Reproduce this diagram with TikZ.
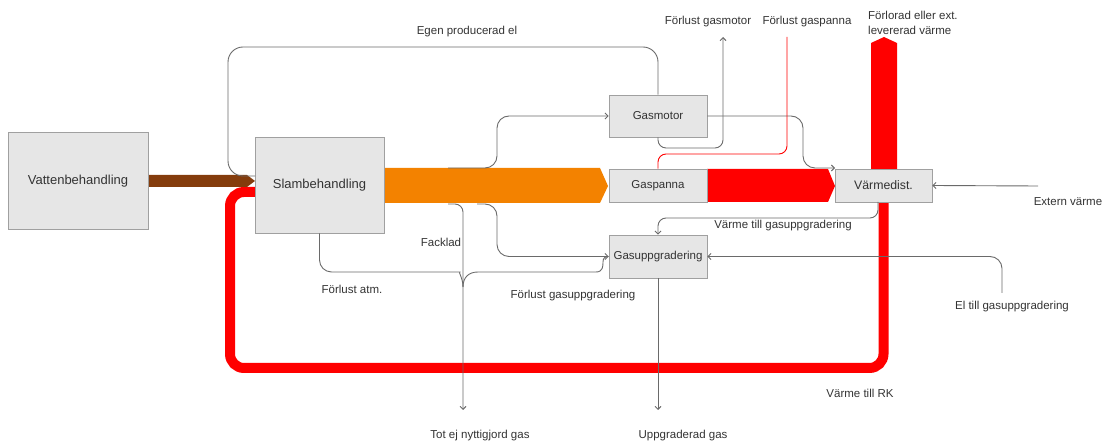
\documentclass[tikz,border=0pt]{standalone}
\usepackage{fontspec}
\setmainfont{Liberation Sans}
\usetikzlibrary{arrows.meta,calc}
\definecolor{boxfill}{HTML}{E6E6E6}
\definecolor{boxline}{HTML}{A0A0A0}
\definecolor{connc}{HTML}{6A6A6A}
\definecolor{orng}{HTML}{F38200}
\definecolor{brwn}{HTML}{843C0C}
\definecolor{rd}{HTML}{FF0000}
\definecolor{txt}{HTML}{333333}
\begin{document}
\begin{tikzpicture}[x=1pt,y=-1pt,
  box/.style={draw=boxline,fill=boxfill,line width=0.8pt,inner sep=0pt,text=txt,font=\fontsize{11.5}{13}\selectfont},
  bigbox/.style={box,font=\fontsize{13}{15}\selectfont},
  lbl/.style={text=txt,font=\fontsize{11.5}{15}\selectfont,inner sep=0pt},
  conn/.style={draw=connc,line width=0.9pt,rounded corners=8pt},
  arr/.style={-{Straight Barb[length=3pt,width=6pt]}},
  heat/.style={draw=rd,line width=10pt,rounded corners=14pt},
]
\useasboundingbox (0,0) rectangle (1106,443);

% named free ends
\coordinate (redin) at (255,192);
\coordinate (elin) at (255,176);
\coordinate (fk) at (448,204);
\coordinate (toup) at (477,204);
\coordinate (togm) at (448,168);
\coordinate (gmloss) at (723,37);
\coordinate (gploss) at (787,37);
\coordinate (vdtl) at (835,168);
\coordinate (ext) at (1038,186);
\coordinate (elgu) at (1002,293);
\coordinate (totgas) at (463,410);
\coordinate (upgas) at (658,410);
\coordinate (jn) at (463,287);

% thick heat flows (behind boxes)
\draw[heat] (883.5,202) -- (883.5,368) -- (230,368) -- (230,192) -- (redin);
\fill[rd] (871,170) -- (871,43) -- (884,37) -- (897,43) -- (897,170) -- cycle;
\fill[brwn] (148,175) -- (247,175) -- (255,181) -- (247,187) -- (148,187) -- cycle;
\fill[orng] (384,168) -- (600,168) -- (608,186) -- (600,203) -- (384,203) -- cycle;
\fill[rd] (707,169) -- (828,169) -- (835,186) -- (828,202) -- (707,202) -- cycle;

% boxes
\node[bigbox,minimum width=140pt,minimum height=97pt] (vb) at (78,181) {Vattenbehandling};
\node[bigbox,minimum width=129pt,minimum height=96pt] (sb) at (319.5,185) {Slambehandling};
\node[box,minimum width=98pt,minimum height=42pt] (gm) at (658,116) {Gasmotor};
\node[box,minimum width=98pt,minimum height=33pt] (gp) at (658,185.5) {Gaspanna};
\node[box,minimum width=98pt,minimum height=43pt] (gu) at (658,256.5) {Gasuppgradering};
\node[box,font=\fontsize{12.3}{14}\selectfont,minimum width=97pt,minimum height=33pt] (vd) at (883.5,185.5) {Värmedist.};

% connectors
\draw[conn,rounded corners=15pt] (gm.north) -- (658,47) -- (228,47) -- (228,176) -- (elin);
\draw[conn,arr,rounded corners=12pt] (togm) -- (497,168) -- (497,116) -- (gm.west);
\draw[conn,arr,rounded corners=12pt] (gm.east) -- (803,116) -- (803,168) -- (vdtl);
\draw[conn,arr] (gm.south) -- (658,148) -- (723,148) -- (gmloss);
\draw[draw=rd,line width=0.9pt,rounded corners=8pt] (gp.north) -- (658,154) -- (787,154) -- (gploss);
\draw[conn,arr] (878,202) -- (878,218) -- (658,218) -- (gu.north);
\draw[conn,arr] (ext) -- (vd.east);
\draw[conn,arr,rounded corners=12pt] (elgu) -- (1002,256.5) -- (gu.east);
\draw[conn,arr] (gu.south) -- (upgas);
\draw[conn,arr] (fk) -- (463,204) -- (totgas);
\draw[conn,arr,rounded corners=12pt] (toup) -- (497,204) -- (497,256.5) -- (gu.west);
\draw[conn,rounded corners=12pt] (sb.south) -- (319.5,272) -- (448,272) .. controls (458,272) and (463,278) .. (jn);
\draw[conn,rounded corners=0pt] (jn) .. controls (463,278) and (468,272) .. (478,272) -- (596,272) .. controls (603,272) and (603,266) .. (603,262) .. controls (603,258) and (605,256.5) .. (gu.west);

% labels
\node[lbl] (l1) at (467,32) {Egen producerad el};
\node[lbl] (l2) at (708,22) {Förlust gasmotor};
\node[lbl] (l3) at (807,22) {Förlust gaspanna};
\node[lbl,align=left,anchor=west] (l4) at (868,22.5) {Förlorad eller ext.\\levererad värme};
\node[lbl] (l5) at (441,242) {Facklad};
\node[lbl] (l6) at (352,289) {Förlust atm.};
\node[lbl] (l7) at (573,296) {Förlust gasuppgradering};
\node[lbl] (l8) at (783,226) {Värme till gasuppgradering};
\node[lbl] (l9) at (1012,307) {El till gasuppgradering};
\node[lbl] (l10) at (860,393) {Värme till RK};
\node[lbl] (l11) at (683,436) {Uppgraderad gas};
\node[lbl] (l12) at (480,436) {Tot ej nyttigjord gas};
\node[lbl] (l13) at (1068,202) {Extern värme};
\end{tikzpicture}
\end{document}
